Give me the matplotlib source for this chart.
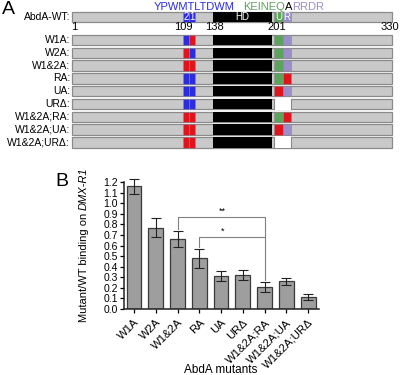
import matplotlib
matplotlib.use('Agg')
import matplotlib.pyplot as plt
from matplotlib.patches import Rectangle
import numpy as np

plt.rcParams['font.family'] = ['Liberation Sans', 'DejaVu Sans']
plt.rcParams['font.size'] = 8

# ---- panel A: protein constructs ----
row_names = ['AbdA-WT', 'W1A', 'W2A', 'W1&2A', 'RA', 'UA', 'URΔ',
             'W1&2A;RA', 'W1&2A;UA', 'W1&2A;URΔ']
# residue spans of the motifs
prot_len = (1, 330)
w2_span = (115, 121)
w1_span = (121, 127)
hd_span = (146, 207)
u_span = (209, 218)
r_span = (218, 226)
# state of each motif per construct: wt / mut / del
w2_state = ['wt', 'wt', 'mut', 'mut', 'wt', 'wt', 'wt', 'mut', 'mut', 'mut']
w1_state = ['wt', 'mut', 'wt', 'mut', 'wt', 'wt', 'wt', 'mut', 'mut', 'mut']
u_state = ['wt', 'wt', 'wt', 'wt', 'wt', 'mut', 'del', 'wt', 'mut', 'del']
r_state = ['wt', 'wt', 'wt', 'wt', 'mut', 'wt', 'del', 'mut', 'wt', 'del']
pos_labels = ['1', '109', '138', '201', '330']
pos_label_x = [3, 115, 147, 212, 328]

# ---- panel B: binding data ----
mutants = ['W1A', 'W2A', 'W1&2A', 'RA', 'UA', 'URΔ',
           'W1&2A;RA', 'W1&2A;UA', 'W1&2A;URΔ']
binding = [1.16, 0.77, 0.66, 0.48, 0.31, 0.32, 0.21, 0.26, 0.115]
binding_err = [0.07, 0.09, 0.077, 0.09, 0.05, 0.05, 0.045, 0.035, 0.03]

BLUE = '#2b2be0'
RED = '#e0141c'
GREEN = '#5ca35c'
PURPLE = '#9c8ec8'
BARGREY = '#c9c9c9'

fig = plt.figure(figsize=(4, 3.75), dpi=100)

# axes A works in residues along x and pixel rows along y
axA = fig.add_axes([72 / 400, 1 - 150 / 375, 320 / 400, 150 / 375])
axA.set_xlim(*prot_len)
axA.set_ylim(150, 0)
axA.axis('off')

row_y = [17] + [40 + 12.8 * i for i in range(len(row_names) - 1)]
h = 10.5

def box(x0, x1, y, color, **kw):
    axA.add_patch(Rectangle((x0, y - h / 2), x1 - x0, h, facecolor=color,
                            edgecolor=kw.pop('ec', 'none'), lw=kw.pop('lw', 0.5),
                            clip_on=False, **kw))

for i, name in enumerate(row_names):
    y = row_y[i]
    box(prot_len[0], prot_len[1], y, BARGREY, ec='#8a8a8a', lw=0.9)
    box(*w2_span, y, RED if w2_state[i] == 'mut' else BLUE, ec='#8a8aa0', lw=0.4)
    box(*w1_span, y, RED if w1_state[i] == 'mut' else BLUE, ec='#8a8aa0', lw=0.4)
    box(*hd_span, y, 'black')
    if u_state[i] == 'del':
        axA.add_patch(Rectangle((u_span[0], y - h / 2 - 0.8), r_span[1] - u_span[0], h + 1.6,
                                facecolor='white', edgecolor='none', clip_on=False))
        axA.plot([u_span[0], u_span[0]], [y - h / 2, y + h / 2], color='#8a8a8a', lw=0.8)
        axA.plot([r_span[1], r_span[1]], [y - h / 2, y + h / 2], color='#8a8a8a', lw=0.8)
    else:
        box(*u_span, y, RED if u_state[i] == 'mut' else GREEN, ec='#8a8a8a', lw=0.4)
        box(*r_span, y, RED if r_state[i] == 'mut' else PURPLE, ec='#8a8a8a', lw=0.4)
    axA.text(-0.006, y, name + ':', transform=axA.get_yaxis_transform(),
             ha='right', va='center', fontsize=7.5)

# labels inside the WT row
wy = row_y[0]
for txt, span in [('2', w2_span), ('1', w1_span), ('HD', hd_span), ('U', u_span), ('R', r_span)]:
    axA.text(np.mean(span), wy, txt, color='white', ha='center', va='center', fontsize=7)

for lab, x in zip(pos_labels, pos_label_x):
    axA.text(x, 27.5, lab, ha='center', va='center', fontsize=8)

# sequences above
axA.text(85, 6.5, 'YPWMTLTDWM', color=BLUE, ha='left', va='center', fontsize=8)
t1 = axA.text(177, 6.5, 'KEINEQ', color=GREEN, ha='left', va='center', fontsize=8)
t2 = axA.annotate('A', xy=(1, 0.5), xycoords=t1, ha='left', va='center', fontsize=8)
axA.annotate('RRDR', xy=(1, 0.5), xycoords=t2, ha='left', va='center', fontsize=8, color=PURPLE)

fig.text(2 / 400, 1 - 9 / 375, 'A', fontsize=14, ha='left', va='center')
fig.text(55 / 400, 1 - 181 / 375, 'B', fontsize=14, ha='left', va='center')

# ---- panel B ----
axB = fig.add_axes([124 / 400, 66 / 375, 195 / 400, 127 / 375])
x = np.arange(len(mutants))
axB.bar(x, binding, width=0.68, color='#9e9e9e', edgecolor='#3a3a3a', linewidth=0.9, zorder=2)
axB.errorbar(x, binding, yerr=binding_err, fmt='none', ecolor='#222222',
             elinewidth=0.8, capsize=3.5, capthick=0.8, zorder=3, clip_on=False)
axB.set_xlim(-0.46, 8.5)
axB.set_ylim(0, 1.2)
axB.set_yticks(np.arange(0, 1.21, 0.1))
axB.set_yticklabels([f'{v:.1f}' for v in np.arange(0, 1.21, 0.1)], fontsize=7.5)
axB.set_xticks(x)
axB.set_xticklabels(mutants, rotation=45, ha='right', rotation_mode='anchor', fontsize=8.2)
axB.tick_params(axis='both', length=3, width=0.9, pad=1.5)
axB.tick_params(axis='x', pad=3)
for s in ['top', 'right']:
    axB.spines[s].set_visible(False)
for s in ['left', 'bottom']:
    axB.spines[s].set_linewidth(1.1)
    axB.spines[s].set_color('#222222')
axB.set_xlabel('AbdA mutants', fontsize=8.5)
axB.xaxis.set_label_coords(0.497, -0.43)

# significance brackets
bc = '#808080'
top2, top1 = 0.87, 0.68
axB.plot([2, 2, 6, 6], [binding[2] + binding_err[2] + 0.015, top2, top2,
                        binding[6] + binding_err[6] + 0.015], color=bc, lw=0.8)
axB.plot([3, 3, 6], [binding[3] + binding_err[3] + 0.012, top1, top1], color=bc, lw=0.8)
axB.text(4.05, top2 + 0.015, '**', ha='center', va='bottom', fontsize=6.5)
axB.text(4.05, top1 + 0.015, '*', ha='center', va='bottom', fontsize=6.5)

# y label with italic probe name
yl = fig.text(84 / 400, 1 - 266 / 375, 'Mutant/WT binding on ', rotation=90,
              ha='center', va='center', fontsize=8)
axB.annotate('DMX-R1', xy=(0.5, 1), xycoords=yl, rotation=90, ha='center',
             va='bottom', fontsize=8, style='italic', annotation_clip=False)

fig.savefig('out.png', dpi=100)
